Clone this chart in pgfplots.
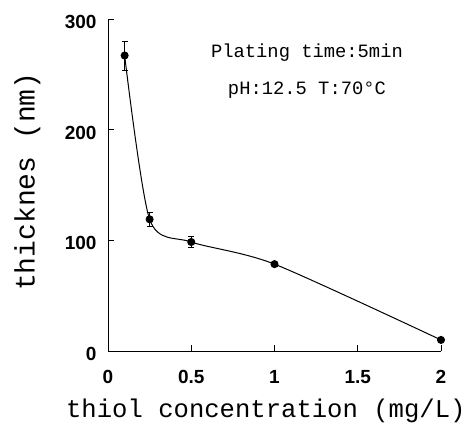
\documentclass[border=0pt]{standalone}
\usepackage{fontspec}
\setmainfont{Liberation Sans}
\newfontfamily\mono{Liberation Mono}
\usepackage{pgfplots}
\pgfplotsset{compat=1.18}

\begin{document}
\begin{tikzpicture}
\useasboundingbox (0,0) rectangle (468pt,430pt);
\begin{axis}[
  at={(108pt,79pt)}, anchor=south west,
  scale only axis,
  width=333pt, height=332pt,
  xmin=0, xmax=2, ymin=0, ymax=300,
  axis x line=bottom, axis y line=left,
  axis line style={-, line width=0.9pt},
  xtick={0,0.5,1,1.5,2}, ytick={0,100,200,300},
  tick align=inside, major tick length=6pt,
  tick style={line width=0.8pt, black},
  /pgf/number format/assume math mode=true,
  tick label style={font=\fontsize{19}{19}\selectfont\bfseries},
  xticklabel style={yshift=-16pt},
  yticklabel style={xshift=-8pt, yshift=-3pt},
  xticklabels={0,0.5,1,1.5,2},
  yticklabels={0,100,200,300},
  xlabel={thiol concentration (mg/L)},
  ylabel={thicknes (nm)},
  xlabel style={font=\mono\fontsize{25.6}{25.6}\selectfont,
    at={(axis description cs:0.474,0)}, anchor=north, yshift=-44pt},
  ylabel style={font=\mono\fontsize{28}{28}\selectfont,
    at={(axis description cs:0,0.51)}, anchor=south, yshift=64pt},
  clip=false,
]
\addplot[black, line width=1pt, smooth, tension=0.45,
  mark=*, mark size=3.5pt,
  error bars/.cd, y dir=both, y explicit,
  error mark options={rotate=90, mark size=3pt, line width=0.6pt},
  error bar style={line width=0.6pt}]
  coordinates {
  (0.1,267) +- (0,13)
  (0.25,119) +- (0,6)
  (0.5,98.5) +- (0,5)
  (1,78.5) +- (0,2)
  (2,10) +- (0,1)
};
\node[font=\mono\fontsize{18.8}{18.8}\selectfont, anchor=center] at (axis cs:1.195,270) {Plating time:5min};
\node[font=\mono\fontsize{18.8}{18.8}\selectfont, anchor=center] at (axis cs:1.195,236) {pH:12.5 T:70°C};
\end{axis}
\end{tikzpicture}
\end{document}
